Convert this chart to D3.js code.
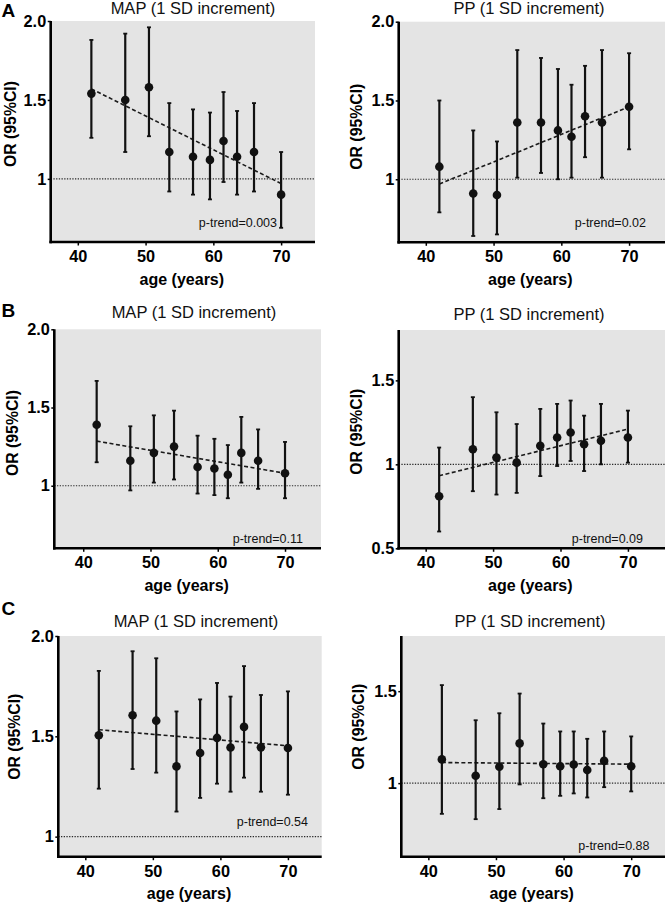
<!DOCTYPE html>
<html>
<head>
<meta charset="utf-8">
<script src="https://cdn.jsdelivr.net/npm/d3@7"></script>
<style>
  html, body { margin: 0; padding: 0; background: #fff; }
  svg { display: block; font-family: "Liberation Sans", Arial, Helvetica, sans-serif; }
</style>
</head>
<body>
<svg id="chart" width="666" height="903"></svg>
<script>
// ---------------- DATA ----------------
const ages = [42, 47, 50.5, 53.5, 57, 59.5, 61.5, 63.5, 66, 70];
const xTickValues = [40, 50, 60, 70];

// A: MAP
const mapA_or = [1.54, 1.50, 1.58, 1.17, 1.14, 1.12, 1.24, 1.14, 1.17, 0.90];
const mapA_lo = [1.26, 1.17, 1.27, 0.92, 0.90, 0.87, 0.98, 0.90, 0.92, 0.69];
const mapA_hi = [1.88, 1.92, 1.96, 1.48, 1.44, 1.42, 1.55, 1.43, 1.48, 1.17];
const mapA_trend = [1.57, 0.97];
// A: PP
const ppA_or = [1.08, 0.91, 0.90, 1.36, 1.36, 1.31, 1.27, 1.40, 1.36, 1.46];
const ppA_lo = [0.79, 0.64, 0.65, 1.01, 1.04, 1.00, 1.01, 1.14, 1.01, 1.19];
const ppA_hi = [1.50, 1.31, 1.24, 1.82, 1.77, 1.70, 1.60, 1.72, 1.82, 1.80];
const ppA_trend = [0.97, 1.46];
// B: MAP
const mapB_or = [1.39, 1.16, 1.21, 1.25, 1.12, 1.11, 1.07, 1.21, 1.16, 1.08];
const mapB_lo = [1.15, 0.97, 1.02, 1.04, 0.95, 0.94, 0.92, 1.02, 0.98, 0.92];
const mapB_hi = [1.67, 1.38, 1.45, 1.48, 1.32, 1.30, 1.26, 1.44, 1.36, 1.28];
const mapB_trend = [1.285, 1.08];
// B: PP
const ppB_or = [0.81, 1.09, 1.04, 1.01, 1.11, 1.16, 1.19, 1.12, 1.14, 1.16];
const ppB_lo = [0.60, 0.84, 0.82, 0.83, 0.93, 0.99, 1.02, 0.96, 1.00, 1.01];
const ppB_hi = [1.10, 1.40, 1.31, 1.24, 1.33, 1.36, 1.38, 1.29, 1.36, 1.32];
const ppB_trend = [0.932, 1.21];
// C: MAP
const mapC_or = [1.505, 1.605, 1.578, 1.35, 1.417, 1.492, 1.444, 1.547, 1.445, 1.442];
const mapC_lo = [1.239, 1.337, 1.319, 1.125, 1.193, 1.264, 1.224, 1.294, 1.224, 1.209];
const mapC_hi = [1.826, 1.924, 1.889, 1.624, 1.684, 1.766, 1.698, 1.85, 1.706, 1.724];
const mapC_trend = [1.533, 1.453];
// C: PP
const ppC_or = [1.129, 1.04, 1.089, 1.216, 1.103, 1.092, 1.101, 1.071, 1.121, 1.092];
const ppC_lo = [0.833, 0.804, 0.859, 0.993, 0.918, 0.931, 0.944, 0.922, 0.978, 0.955];
const ppC_hi = [1.533, 1.342, 1.38, 1.487, 1.324, 1.281, 1.281, 1.241, 1.281, 1.254];
const ppC_trend = [1.112, 1.103];

const pTrendLabels = ["p-trend=0.003", "p-trend=0.02", "p-trend=0.11", "p-trend=0.09", "p-trend=0.54", "p-trend=0.88"];
const panelTitles = ["MAP (1 SD increment)", "PP (1 SD increment)", "MAP (1 SD increment)", "PP (1 SD increment)", "MAP (1 SD increment)", "PP (1 SD increment)"];
const panelLetters = ["A", "", "B", "", "C", ""];
const yTicksList = [[2.0, 1.5, 1], [2.0, 1.5, 1], [2.0, 1.5, 1], [1.5, 1, 0.5], [2.0, 1.5, 1], [1.5, 1]];
const yTickLabelsList = [["2.0", "1.5", "1"], ["2.0", "1.5", "1"], ["2.0", "1.5", "1"], ["1.5", "1", "0.5"], ["2.0", "1.5", "1"], ["1.5", "1"]];
const yDomains = [[0.6, 2.0], [0.6, 2.0], [0.6, 2.0], [0.5, 1.8], [0.9, 2.0], [0.6, 1.8]];
const xTitle = "age (years)";
const yTitle = "OR (95%CI)";

// ---------------- LAYOUT ----------------
const layout = [
  {x0: 50.7, x1: 315, y0: 21, y1: 242, xd: [36, 75], tX: 193, tY: 13.5, yTx: 15.7, yTy: 124, pX: 277, pY: 226.5, lY: 16.7},
  {x0: 398.7, x1: 665, y0: 21.7, y1: 242.3, xd: [36, 75.3], tX: 529, tY: 13.5, yTx: 362, yTy: 126.7, pX: 646, pY: 226.5},
  {x0: 54.3, x1: 321, y0: 329.3, y1: 548.3, xd: [35.7, 75.35], tX: 194, tY: 317.7, yTx: 17.7, yTy: 433, pX: 303, pY: 542.5, lY: 316.7},
  {x0: 398.7, x1: 665, y0: 330, y1: 548.3, xd: [36, 75.5], tX: 529, tY: 319.5, yTx: 362, yTy: 431.7, pX: 643, pY: 542.5},
  {x0: 58.3, x1: 321.7, y0: 636, y1: 856.7, xd: [36, 75], tX: 196, tY: 627, yTx: 20, yTy: 736.7, pX: 308, pY: 825.5, lY: 615},
  {x0: 401.3, x1: 665, y0: 636, y1: 856.7, xd: [36, 75], tX: 530, tY: 626.7, yTx: 363.5, yTy: 726.7, pX: 649.5, pY: 850}
];

const panelData = [
  {or: mapA_or, lo: mapA_lo, hi: mapA_hi, trend: mapA_trend},
  {or: ppA_or, lo: ppA_lo, hi: ppA_hi, trend: ppA_trend},
  {or: mapB_or, lo: mapB_lo, hi: mapB_hi, trend: mapB_trend},
  {or: ppB_or, lo: ppB_lo, hi: ppB_hi, trend: ppB_trend},
  {or: mapC_or, lo: mapC_lo, hi: mapC_hi, trend: mapC_trend},
  {or: ppC_or, lo: ppC_lo, hi: ppC_hi, trend: ppC_trend}
];

const svg = d3.select("#chart");
const GRAY = "#e4e4e4";

panelData.forEach((pd, i) => {
  const L = layout[i];
  const x = d3.scaleLinear().domain(L.xd).range([L.x0, L.x1]);
  const y = d3.scaleLinear().domain(yDomains[i]).range([L.y1, L.y0]);
  const g = svg.append("g");

  // background
  g.append("rect")
    .attr("x", L.x0).attr("y", L.y0)
    .attr("width", L.x1 - L.x0).attr("height", L.y1 - L.y0)
    .attr("fill", GRAY);

  // reference line at OR = 1
  g.append("line")
    .attr("x1", L.x0).attr("x2", L.x1)
    .attr("y1", y(1)).attr("y2", y(1))
    .attr("stroke", "#2a2a2a").attr("stroke-width", 1.1)
    .attr("stroke-dasharray", "1.3,1.4");

  // trend line
  g.append("line")
    .attr("x1", x(ages[0])).attr("x2", x(ages[ages.length - 1]))
    .attr("y1", y(pd.trend[0])).attr("y2", y(pd.trend[1]))
    .attr("stroke", "#1a1a1a").attr("stroke-width", 1.6)
    .attr("stroke-dasharray", "4,2.5");

  // error bars
  const rows = ages.map((a, k) => ({a, or: pd.or[k], lo: pd.lo[k], hi: pd.hi[k]}));
  const eb = g.append("g").attr("stroke", "#111").attr("stroke-width", 2.2);
  eb.selectAll("line.v").data(rows).enter().append("line")
    .attr("x1", d => x(d.a)).attr("x2", d => x(d.a))
    .attr("y1", d => y(d.lo)).attr("y2", d => y(d.hi));
  eb.selectAll("line.cap-hi").data(rows).enter().append("line")
    .attr("x1", d => x(d.a) - 2).attr("x2", d => x(d.a) + 2)
    .attr("y1", d => y(d.hi)).attr("y2", d => y(d.hi))
    .attr("stroke-width", 1.8);
  eb.selectAll("line.cap-lo").data(rows).enter().append("line")
    .attr("x1", d => x(d.a) - 2).attr("x2", d => x(d.a) + 2)
    .attr("y1", d => y(d.lo)).attr("y2", d => y(d.lo))
    .attr("stroke-width", 1.8);
  g.selectAll("circle").data(rows).enter().append("circle")
    .attr("cx", d => x(d.a)).attr("cy", d => y(d.or))
    .attr("r", 4.3).attr("fill", "#111");

  // axes
  const yAxis = d3.axisLeft(y)
    .tickValues(yTicksList[i])
    .tickFormat((d, k) => yTickLabelsList[i][k])
    .tickSize(3).tickSizeOuter(0).tickPadding(1.5);
  const ya = g.append("g").attr("transform", `translate(${L.x0},0)`).call(yAxis);

  const xAxis = d3.axisBottom(x)
    .tickValues(xTickValues)
    .tickFormat(d3.format("d"))
    .tickSize(3.5).tickSizeOuter(0).tickPadding(5);
  const xa = g.append("g").attr("transform", `translate(0,${L.y1})`).call(xAxis);

  [ya, xa].forEach(ax => {
    ax.select(".domain").attr("stroke", "#000").attr("stroke-width", 2.6);
    ax.selectAll(".tick line").attr("stroke", "#000").attr("stroke-width", 1.5);
    ax.selectAll(".tick text")
      .attr("fill", "#000")
      .style("font-size", "16.3px").style("font-weight", "bold");
  });
  ya.select(".domain").attr("d", `M0,${L.y0}V${L.y1 + 1.3}`);
  xa.select(".domain").attr("d", `M${L.x0 - 1.3},0H${L.x1}`);

  // title
  g.append("text")
    .attr("x", L.tX).attr("y", L.tY)
    .attr("text-anchor", "middle")
    .style("font-size", "16.5px")
    .attr("fill", "#111")
    .text(panelTitles[i]);

  // panel letter
  if (panelLetters[i]) {
    g.append("text")
      .attr("x", 1.5).attr("y", L.lY)
      .style("font-size", "19px").style("font-weight", "bold")
      .attr("fill", "#000")
      .text(panelLetters[i]);
  }

  // x title
  g.append("text")
    .attr("x", (L.x0 + L.x1) / 2 - (i % 2 === 1 ? 1.5 : 1))
    .attr("y", L.y1 + 42.5)
    .attr("text-anchor", "middle")
    .style("font-size", "16px").style("font-weight", "bold")
    .attr("fill", "#000")
    .text(xTitle);

  // y title
  g.append("text")
    .attr("transform", `translate(${L.yTx},${L.yTy}) rotate(-90)`)
    .attr("text-anchor", "middle")
    .style("font-size", "15.8px").style("font-weight", "bold")
    .attr("fill", "#000")
    .text(yTitle);

  // p-trend
  g.append("text")
    .attr("x", L.pX).attr("y", L.pY)
    .attr("text-anchor", "end")
    .style("font-size", "12.5px")
    .attr("fill", "#111")
    .text(pTrendLabels[i]);
});
</script>
</body>
</html>
